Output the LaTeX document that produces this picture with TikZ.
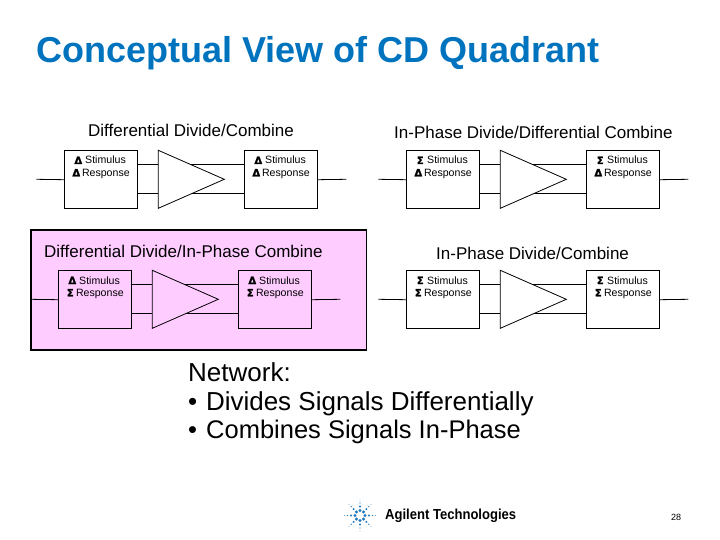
\documentclass[tikz,border=0pt]{standalone}
\usepackage{fontspec}
\setmainfont{Liberation Sans}
\newfontfamily\symfont{DejaVu Sans Bold}[FakeBold=1.5]
\newfontfamily\logofont{Liberation Sans}[FakeStretch=0.9]
\usetikzlibrary{calc}
\definecolor{titleblue}{RGB}{0,115,190}
\definecolor{panelpink}{RGB}{255,204,255}
\definecolor{sparkblue}{RGB}{30,120,190}
\newcommand{\symD}{\symfont Δ}
\newcommand{\symS}{\symfont Σ}
\tikzset{
  x=1pt,y=-1pt,
  wire/.style={draw=black,line width=0.8pt},
  portbox/.style={draw=black,line width=0.8pt,minimum width=72.4pt,minimum height=58pt,inner sep=0pt,anchor=north west},
  small/.style={font=\fontsize{10.6}{12}\selectfont,inner sep=0pt,anchor=base west},
  sym/.style={font=\fontsize{10}{12}\selectfont,inner sep=0pt,anchor=base},
  heading/.style={font=\fontsize{17}{20}\selectfont,inner sep=0pt,anchor=base west},
  bodytext/.style={font=\fontsize{26}{30}\selectfont,inner sep=0pt,anchor=base west},
  spark/.style={fill=sparkblue,draw=none},
}
% #1 prefix, #2 x of left box, #3 y of box top, #4 stimulus symbol, #5 response symbol
\newcommand{\panel}[5]{%
  \begin{scope}[shift={(#2,#3)}]
    \node[portbox] (#1L) at (0,0) {};
    \node[portbox] (#1R) at (180,0) {};
    \coordinate (#1ta) at (94,0);
    \coordinate (#1tb) at (94,58);
    \coordinate (#1tc) at (160,29);
    \coordinate (#1in) at (-28,29);
    \coordinate (#1out) at (282,29);
    \coordinate (#1ua) at (94,14);
    \coordinate (#1la) at (94,43);
    \coordinate (#1ub) at ($(#1ta)!14/29!(#1tc)$);
    \coordinate (#1lb) at ($(#1tb)!15/29!(#1tc)$);
    \draw[wire] (#1ta) -- (#1tc) -- (#1tb) -- cycle;
    \draw[wire] (#1in) -- (#1L.west);
    \draw[wire] (#1R.east) -- (#1out);
    \draw[wire] (#1L.east |- #1ua) -- (#1ua);
    \draw[wire] (#1L.east |- #1la) -- (#1la);
    \draw[wire] (#1ub) -- (#1R.west |- #1ub);
    \draw[wire] (#1lb) -- (#1R.west |- #1lb);
    \foreach \bx in {0,180}{
      \node[sym] at (\bx+14,13.7) {#4};
      \node[small] at (\bx+20.7,13.7) {Stimulus};
      \node[sym] at (\bx+12,26) {#5};
      \node[small] at (\bx+17.5,26) {Response};
    }
  \end{scope}}
\begin{document}
\begin{tikzpicture}
\useasboundingbox (0,0) rectangle (720,540);
\fill[white] (0,0) rectangle (720,540);
\node[inner sep=0pt,anchor=base west,text=titleblue,font=\fontsize{36}{42}\selectfont\bfseries] (title) at (36,63) {Conceptual View of CD Quadrant};
\node[draw=black,line width=1.6pt,fill=panelpink,minimum width=335.5pt,minimum height=120pt,inner sep=0pt,anchor=north west] (pinkpanel) at (30,229) {};
\node[heading] (h1) at (88,137) {Differential Divide/Combine};
\node[heading] (h2) at (394,139) {In-Phase Divide/Differential Combine};
\node[heading] (h3) at (44,258) {Differential Divide/In-Phase Combine};
\node[heading] (h4) at (436,259) {In-Phase Divide/Combine};
\panel{a}{64.3}{150.3}{\symD}{\symD}
\panel{b}{406.3}{150.3}{\symS}{\symD}
\panel{c}{58.3}{270.3}{\symD}{\symS}
\panel{d}{406.3}{270.3}{\symS}{\symS}
\node[bodytext] (n1) at (188,381) {Network:};
\node[bodytext] (n2) at (188,410) {•\kern1.5pt\ Divides Signals Differentially};
\node[bodytext,font=\fontsize{25.5}{30}\selectfont] (n3) at (188,438) {•\kern2pt\ Combines Signals In-Phase};
\coordinate (logo) at (360,515.5);
\foreach \a in {0,45,...,315}{
  \fill[spark] ($(logo)+(\a:5)$) circle (1.7pt);
  \fill[spark] ($(logo)+(\a:9)$) circle (1.1pt);
  \fill[spark] ($(logo)+(\a:12.5)$) circle (0.7pt);
  \fill[spark] ($(logo)+(\a:15.5)$) circle (0.4pt);
}
\node[inner sep=0pt,anchor=west,font=\logofont\fontsize{14.5}{17}\selectfont\bfseries] (agilent) at (385,516) {Agilent Technologies};
\node[inner sep=0pt,anchor=west,font=\fontsize{9}{11}\selectfont] (pagenum) at (671,517) {28};
\end{tikzpicture}
\end{document}
